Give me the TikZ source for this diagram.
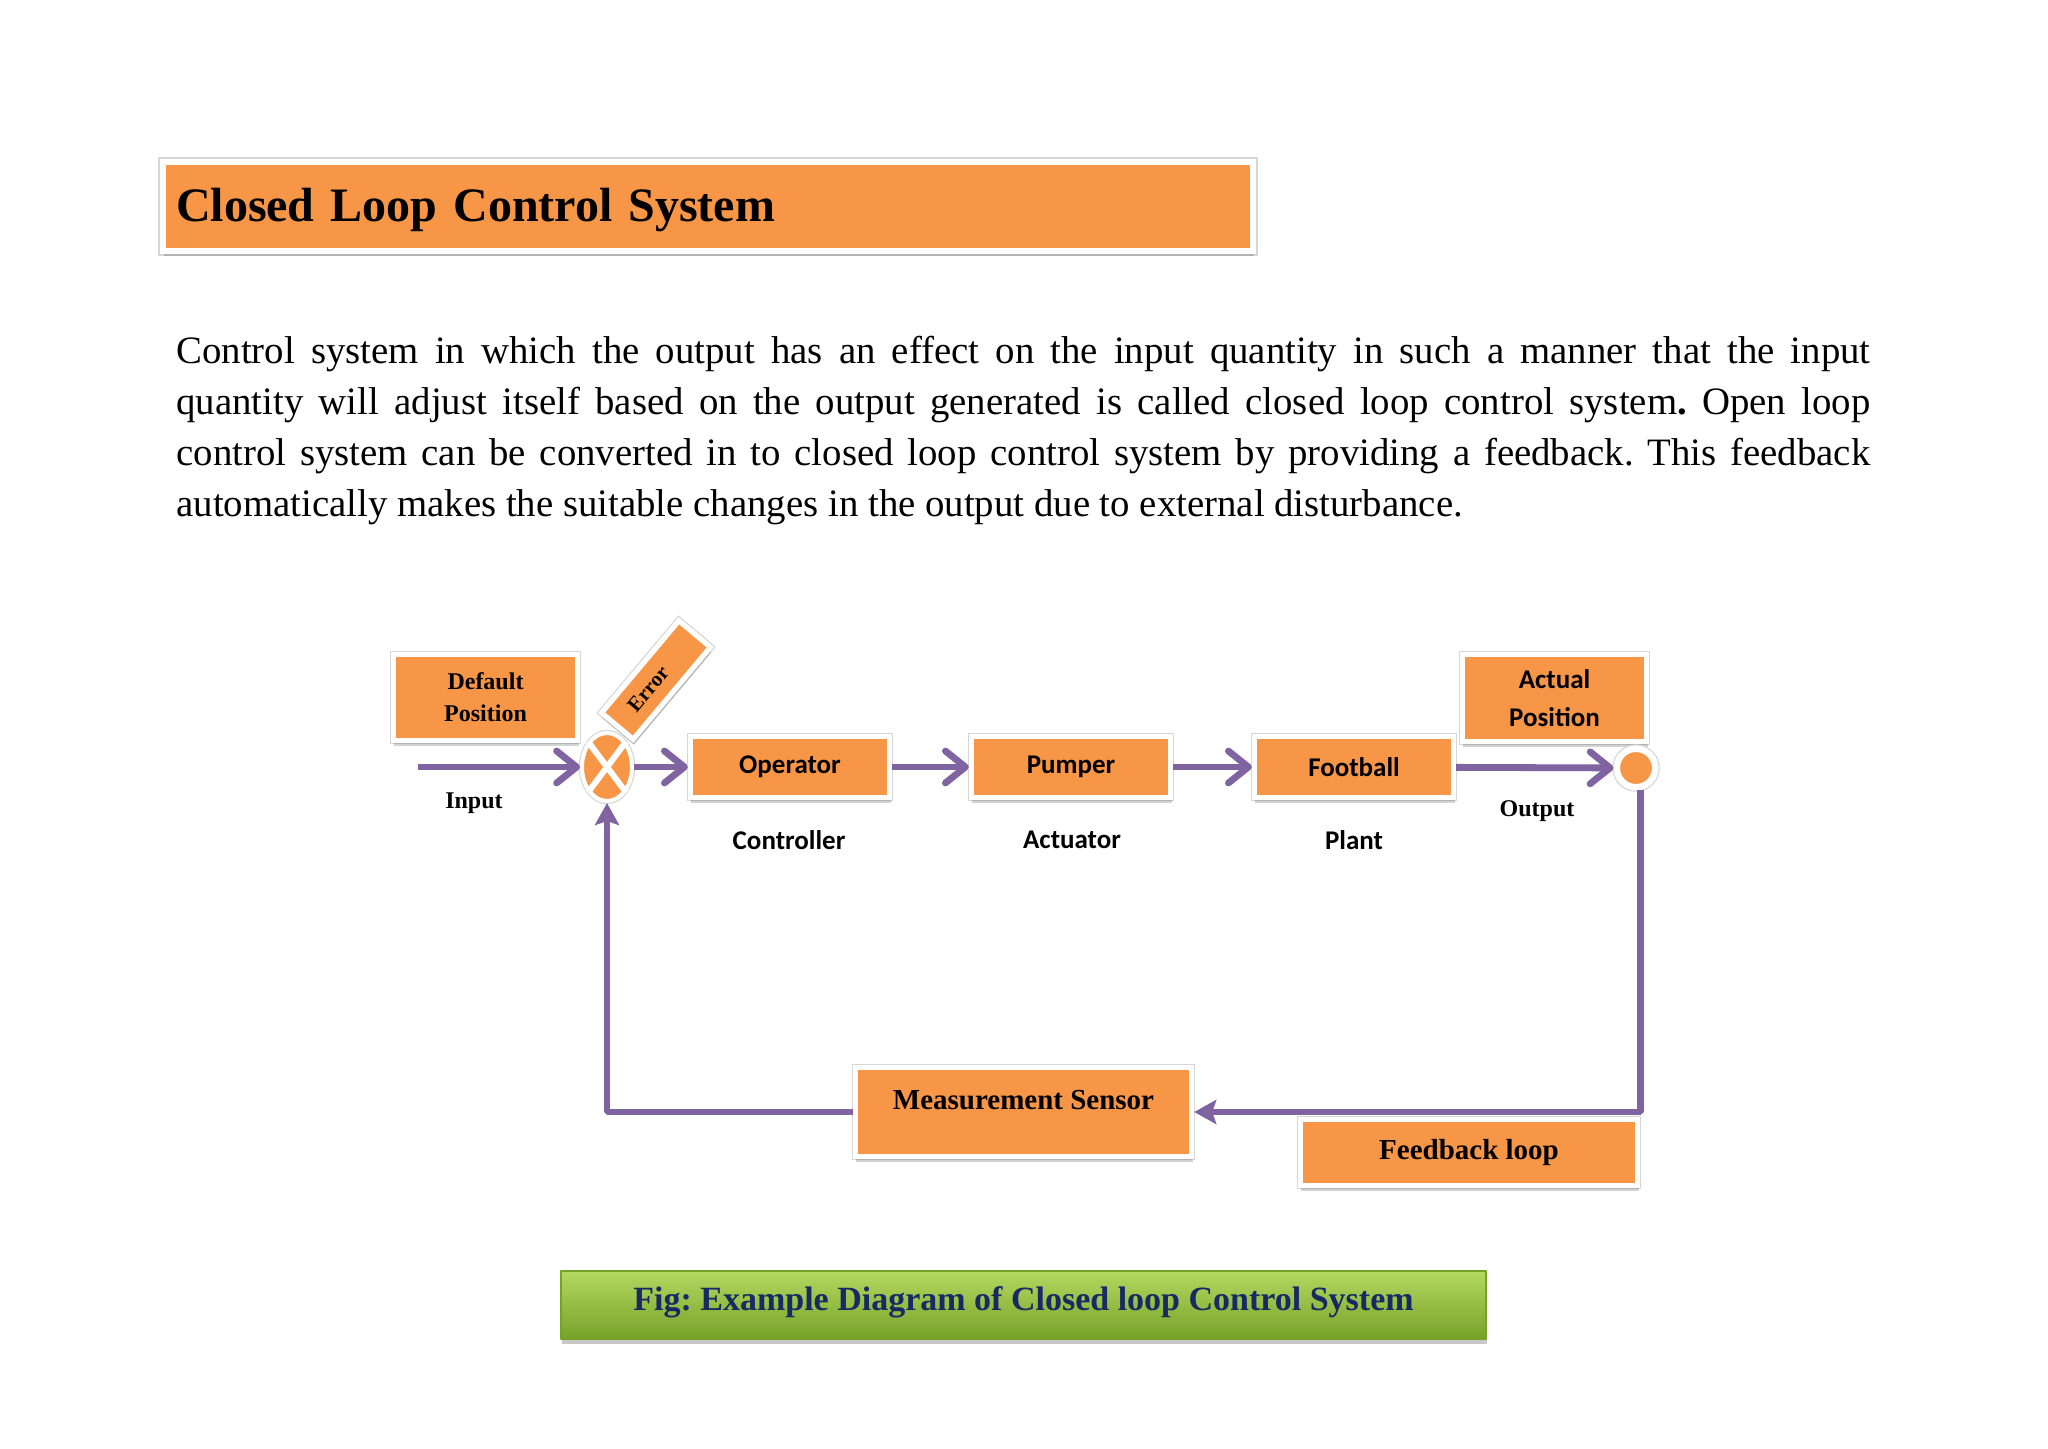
\documentclass[tikz,border=0pt]{standalone}
\usepackage{fontspec}
\setmainfont{Liberation Serif}
\setsansfont{Carlito}
\usepackage{tikz}
\usetikzlibrary{arrows.meta,shapes,shadows}
\definecolor{boxorange}{HTML}{F79646}
\definecolor{flowpurple}{HTML}{8064A2}
\definecolor{capnavy}{RGB}{22,42,100}
\definecolor{capgreenT}{RGB}{180,216,96}
\definecolor{capgreenM}{RGB}{150,198,62}
\definecolor{capgreenB}{RGB}{118,162,40}
\frenchspacing

\begin{document}
\begin{tikzpicture}[x=0.5pt,y=-0.5pt,line join=bevel,
  rimmed/.style={fill=boxorange,draw=white,inner sep=0pt,line join=miter,
    preaction={draw=black!16,line width=#1+1.2pt},line width=#1},
  blk/.style={rectangle,rimmed=#1,
    drop shadow={shadow xshift=0.5pt,shadow yshift=-2.6pt,opacity=0.22,fill=black!80}},
  blk/.default=2.6pt,
  sanslbl/.style={font=\sffamily\bfseries\fontsize{13.5}{19}\selectfont,align=center},
  serlbl/.style={font=\bfseries\fontsize{12}{16}\selectfont,align=center},
  fwd/.style={draw=flowpurple,line width=3.4pt,-{Straight Barb[length=10pt,width=16pt,round]}},
  fbk/.style={draw=flowpurple,line width=3.4pt,-{Stealth[length=11pt,width=12pt,inset=2pt]}}]
\useasboundingbox (0,0) rectangle (2048,1449);
\fill[white] (0,0) rectangle (2048,1449);
%%
\node (title) at (708,206.5) [blk=3.2pt,minimum width=545.2pt,minimum height=44.7pt,text width=532pt,align=left,
  text height=20.5pt,text depth=5pt,font=\bfseries\fontsize{24}{28}\selectfont] {Closed Loop Control System};
\node (para) at (176,336) [anchor=north west,inner sep=0pt,text width=847pt,align=justify,
  font=\fontsize{19.4}{25.5}\selectfont]
  {Control system in which the output has an effect on the input quantity in such a manner that the input\linebreak
   quantity will adjust itself based on the output generated is called closed loop control system\textbf{.} Open loop\linebreak
   control system can be converted in to closed loop control system by providing a feedback. This feedback\linebreak
   automatically makes the suitable changes in the output due to external disturbance.};
%%
\node (defpos) at (485.5,697.5) [blk,minimum width=92.1pt,minimum height=43.1pt,serlbl] {Default\\Position};
\node (err) at (656,680) [blk,rotate=50,minimum width=60.1pt,minimum height=20.6pt,
  font=\bfseries\fontsize{10.5}{12}\selectfont] {\hspace*{-12pt}Error};
\node (sum) at (607,767) [ellipse,rimmed=2pt,minimum width=25pt,minimum height=34pt] {};
\draw[white,line width=3pt] (sum.north west) -- (sum.south east) (sum.north east) -- (sum.south west);
\node (oper) at (790,767) [blk,minimum width=99.6pt,minimum height=30.6pt,sanslbl] {Operator};
\node (pump) at (1071,767) [blk,minimum width=99.6pt,minimum height=30.6pt,sanslbl] {Pumper};
\node (foot) at (1354,767) [blk,minimum width=99.6pt,minimum height=30.6pt,sanslbl] {Football};
\node (actpos) at (1554.5,698) [blk,minimum width=92.1pt,minimum height=43.6pt,sanslbl] {Actual\\Position};
\node (out) at (1636,768) [circle,rimmed=3.25pt,minimum size=19.25pt] {};
%
\node (inlbl) at (474,803) [serlbl] {Input};
\node (ctrl) at (789,840) [sanslbl] {Controller};
\node (act) at (1072,840) [sanslbl] {Actuator};
\node (plant) at (1354,840) [sanslbl] {Plant};
\node (outlbl) at (1537,811) [serlbl] {Output};
%
\node (sensor) at (1023.5,1112) [blk,minimum width=168.1pt,minimum height=44.6pt,text depth=12pt,
  font=\bfseries\fontsize{14.5}{17}\selectfont] {Measurement Sensor};
\node (fbloop) at (1469,1152.5) [blk,minimum width=168.6pt,minimum height=33.1pt,
  font=\bfseries\fontsize{14.5}{17}\selectfont] {Feedback loop};
%%
\coordinate (inp) at (418,767);
\draw[fwd] (inp) -- (sum);
\draw[fwd] (sum) -- (oper);
\draw[fwd] (oper) -- (pump);
\draw[fwd] (pump) -- (foot);
\draw[fwd] (foot) -- (out);
\draw[fbk] (out.-78) |- (sensor);
\draw[fbk] (sensor) -| (sum);
%%
\node (cap) at (1023.5,1305) [shading=axis,top color=capgreenT,middle color=capgreenM,bottom color=capgreenB,
  draw=capgreenB,line width=1pt,minimum width=462.5pt,minimum height=34pt,text=capnavy,text depth=6pt,
  drop shadow={shadow xshift=0.5pt,shadow yshift=-2.5pt,opacity=0.3,fill=black!70},
  font=\bfseries\fontsize{17}{20}\selectfont] {Fig: Example Diagram of Closed loop Control System};
\end{tikzpicture}
\end{document}
